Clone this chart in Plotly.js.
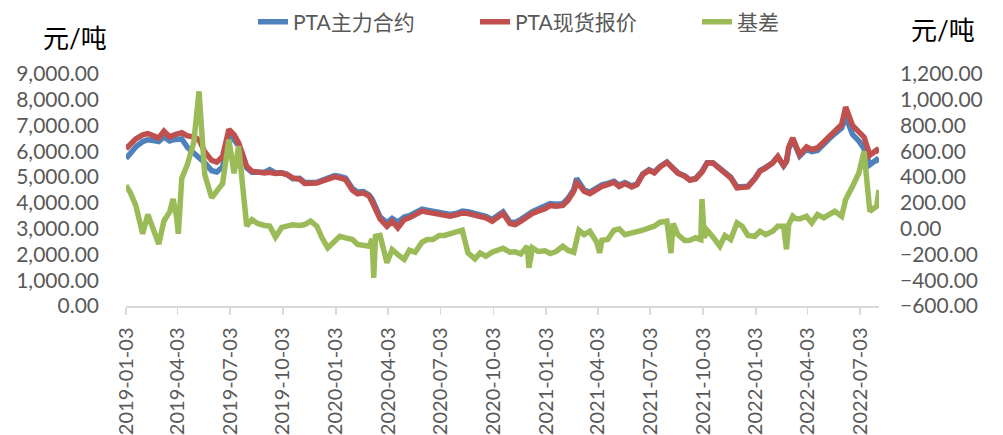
<!DOCTYPE html>
<html>
<head>
<meta charset="utf-8">
<script src="https://cdn.plot.ly/plotly-3.0.1.min.js"></script>
<style>
html,body{margin:0;padding:0;background:#fff;}
#chart{width:1003px;height:435px;}
</style>
</head>
<body>
<div id="chart"></div>
<script>
const dates = [
"2019-01-03","2019-01-10","2019-01-20","2019-02-01","2019-02-10","2019-02-20","2019-03-01","2019-03-10","2019-03-20","2019-03-26",
"2019-04-01","2019-04-04","2019-04-10","2019-04-20","2019-05-01","2019-05-10","2019-05-20","2019-06-01","2019-06-10","2019-06-20",
"2019-07-01","2019-07-10","2019-07-18","2019-07-24","2019-08-01","2019-08-10","2019-08-20","2019-09-01","2019-09-10","2019-09-20",
"2019-10-01","2019-10-10","2019-10-20","2019-11-01","2019-11-10","2019-11-20","2019-12-01","2019-12-10","2019-12-20","2020-01-01",
"2020-01-10","2020-01-20","2020-02-01","2020-02-10","2020-02-20","2020-03-01","2020-03-06","2020-03-09","2020-03-12","2020-03-20",
"2020-04-01","2020-04-10","2020-04-20","2020-05-01","2020-05-10","2020-05-20","2020-06-01","2020-06-10","2020-06-20","2020-07-01",
"2020-07-10","2020-07-20","2020-08-01","2020-08-10","2020-08-20","2020-09-01","2020-09-10","2020-09-20","2020-10-01","2020-10-10",
"2020-10-20","2020-11-01","2020-11-10","2020-11-20","2020-12-01","2020-12-04","2020-12-10","2020-12-20","2021-01-01","2021-01-10",
"2021-01-20","2021-02-01","2021-02-10","2021-02-20","2021-02-25","2021-03-01","2021-03-10","2021-03-20","2021-04-01","2021-04-06",
"2021-04-10","2021-04-20","2021-05-01","2021-05-10","2021-05-20","2021-06-01","2021-06-10","2021-06-20","2021-07-01","2021-07-10",
"2021-07-20","2021-08-01","2021-08-08","2021-08-12","2021-08-20","2021-09-01","2021-09-10","2021-09-20","2021-09-29","2021-10-01",
"2021-10-05","2021-10-10","2021-10-20","2021-11-01","2021-11-10","2021-11-20","2021-12-01","2021-12-10","2021-12-20","2022-01-01",
"2022-01-10","2022-01-20","2022-02-01","2022-02-10","2022-02-20","2022-02-25","2022-03-01","2022-03-08","2022-03-12","2022-03-20",
"2022-04-01","2022-04-10","2022-04-20","2022-05-01","2022-05-10","2022-05-20","2022-06-01","2022-06-08","2022-06-20","2022-07-01",
"2022-07-10","2022-07-20","2022-08-01","2022-08-05"
];

// PTA主力合约 (元/吨)
const futures = [
5720,5900,6170,6380,6450,6420,6380,6560,6400,6450,
6480,6500,6480,6150,5950,5800,5560,5250,5200,5400,
6550,6450,6200,5900,5360,5190,5190,5190,5290,5160,
5170,5110,4940,4950,4790,4780,4800,4880,4950,5060,
5030,4960,4560,4420,4440,4300,4150,4000,3850,3460,
3230,3400,3260,3450,3500,3620,3760,3720,3680,3650,
3610,3550,3600,3680,3660,3590,3540,3480,3360,3520,
3650,3260,3240,3360,3540,3580,3660,3760,3850,3970,
3950,3970,4180,4520,4950,4780,4500,4420,4600,4650,
4700,4760,4840,4690,4790,4660,4740,5120,5290,5190,
5420,5590,5420,5380,5170,5050,4900,4950,5150,5220,
5380,5560,5560,5340,5130,5000,4620,4610,4650,4950,
5250,5380,5560,5790,5440,5600,6120,6450,6250,5820,
6080,5990,6030,6300,6480,6680,6900,7350,6650,6400,
6100,5480,5680,5600
];

// PTA现货报价 (元/吨)
const spot = [
6100,6250,6480,6640,6690,6600,6520,6780,6560,6620,
6700,6690,6720,6600,6560,6450,5980,5650,5580,5800,
6850,6650,6330,5950,5420,5230,5190,5160,5190,5140,
5160,5100,4970,4920,4750,4750,4770,4840,4900,5010,
4970,4900,4490,4350,4390,4260,4050,3900,3800,3380,
3090,3290,3030,3350,3420,3550,3680,3640,3610,3590,
3550,3480,3550,3610,3590,3510,3460,3420,3290,3460,
3590,3200,3160,3290,3460,3500,3590,3680,3770,3900,
3870,3900,4100,4450,4780,4710,4450,4360,4540,4590,
4640,4710,4800,4640,4750,4620,4710,5100,5260,5160,
5390,5570,5400,5360,5150,5030,4880,4930,5120,5190,
5350,5550,5550,5320,5100,4970,4580,4580,4620,4930,
5230,5360,5550,5800,5450,5620,6170,6520,6330,5870,
6170,6070,6130,6390,6580,6780,7040,7720,7000,6780,
6550,5850,6050,5950
];

// 基差 (元/吨, 右轴)
const basis = [
335,285,180,-40,110,-10,-120,60,130,230,
90,-40,390,500,670,1065,420,240,300,350,
690,430,640,350,20,70,40,25,20,-65,
10,20,30,25,32,58,19,-71,-149,-97,
-59,-71,-84,-123,-131,-136,-80,-382,-60,-53,
-265,-162,-201,-239,-167,-183,-105,-84,-84,-53,
-53,-38,-20,-12,-188,-234,-188,-214,-183,-170,
-152,-183,-180,-196,-136,-304,-149,-177,-172,-193,
-177,-136,-167,-183,-60,-12,-46,-20,-105,-188,
-90,-84,-12,-2,-46,-33,-33,-12,6,19,
50,58,-190,40,-46,-92,-90,-71,-85,230,
-70,-12,-64,-136,-53,-84,45,19,-53,-59,
-20,-46,-20,19,19,-160,32,96,80,76,
96,45,109,84,109,135,96,226,329,432,
600,135,174,300
];

const tickDates = [
"2019-01-03","2019-04-03","2019-07-03","2019-10-03","2020-01-03","2020-04-03","2020-07-03",
"2020-10-03","2021-01-03","2021-04-03","2021-07-03","2021-10-03","2022-01-03","2022-04-03","2022-07-03"
];
const seriesNames = ["PTA主力合约","PTA现货报价","基差"];
const unitLabel = "元/吨";

const FONT = 'Lato, "Noto Sans CJK SC", sans-serif';
const GREY = '#595959';

const traces = [
  {x: dates, y: futures, name: seriesNames[0], type: 'scatter', mode: 'lines',
   line: {color: '#4F81BD', width: 5.5}, yaxis: 'y'},
  {x: dates, y: spot, name: seriesNames[1], type: 'scatter', mode: 'lines',
   line: {color: '#C0504D', width: 5.5}, yaxis: 'y'},
  {x: dates, y: basis, name: seriesNames[2], type: 'scatter', mode: 'lines',
   line: {color: '#9BBB59', width: 5.5}, yaxis: 'y2'}
];

const layout = {
  width: 1003, height: 435,
  margin: {l: 126, r: 124, t: 74, b: 129, pad: 0, autoexpand: false},
  paper_bgcolor: '#ffffff', plot_bgcolor: '#ffffff',
  font: {family: FONT, color: GREY, size: 21},
  showlegend: true,
  legend: {orientation: 'h', xref: 'container', yref: 'container',
           x: 253/1003, xanchor: 'left', y: 1 - 22/435, yanchor: 'middle',
           font: {family: FONT, size: 21, color: GREY}, entrywidth: 177, entrywidthmode: 'pixels',
           bgcolor: 'rgba(0,0,0,0)', traceorder: 'normal'},
  xaxis: {
    type: 'date', range: ['2019-01-03', '2022-08-05'],
    tickmode: 'array', tickvals: tickDates, ticktext: tickDates,
    tickangle: -90, ticks: 'outside', ticklen: 7, tickwidth: 1.5, tickcolor: '#d9d9d9',
    showline: true, linecolor: '#d9d9d9', linewidth: 1.5, showgrid: false, zeroline: false,
    tickfont: {family: FONT, size: 20, color: GREY}, ticklabelstandoff: 5, automargin: false
  },
  yaxis: {
    range: [0, 9000], dtick: 1000, tick0: 0, tickformat: ',.2f',
    showgrid: false, zeroline: false, showline: false, ticks: '',
    tickfont: {family: FONT, size: 21, color: GREY}, ticklabelstandoff: 26, automargin: false
  },
  yaxis2: {
    range: [-600, 1200], dtick: 200, tick0: 0, tickformat: ',.2f',
    overlaying: 'y', side: 'right',
    showgrid: false, zeroline: false, showline: false, ticks: '',
    tickfont: {family: FONT, size: 21, color: GREY}, ticklabelstandoff: 20, automargin: false
  },
  annotations: [
    {text: unitLabel, xref: 'paper', yref: 'paper', x: (75-126)/753, y: (306.5-38)/232.5,
     xanchor: 'center', yanchor: 'middle', showarrow: false,
     font: {family: FONT, size: 26, color: '#000000'}},
    {text: unitLabel, xref: 'paper', yref: 'paper', x: (943-126)/753, y: (306.5-30)/232.5,
     xanchor: 'center', yanchor: 'middle', showarrow: false,
     font: {family: FONT, size: 26, color: '#000000'}}
  ]
};

Plotly.newPlot('chart', traces, layout, {displayModeBar: false, staticPlot: true});
</script>
</body>
</html>
